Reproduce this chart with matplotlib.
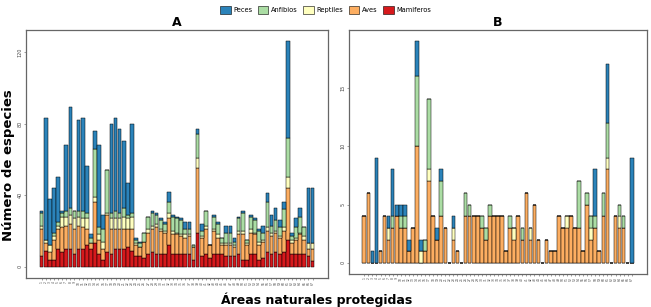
import numpy as np
import matplotlib.pyplot as plt
from matplotlib.patches import Patch

# especies por area natural protegida (67 areas)
areas = list(range(1, 68))

# Panel A
mam_a = [6, 9, 4, 4, 10, 8, 10, 10, 7, 10, 10, 12, 10, 13, 7, 4, 8, 7, 10, 10,
         10, 11, 9, 6, 6, 5, 7, 8, 7, 7, 7, 12, 7, 7, 7, 7, 7, 4, 19, 6,
         7, 5, 7, 7, 7, 6, 6, 6, 7, 4, 4, 7, 7, 4, 5, 8, 7, 8, 7, 8,
         15, 7, 7, 7, 7, 6, 3]
ave_a = [15, 4, 4, 11, 11, 14, 13, 14, 14, 13, 12, 9, 3, 23, 8, 6, 21, 14, 11, 11,
         11, 10, 12, 6, 5, 9, 12, 13, 15, 13, 12, 15, 11, 11, 10, 9, 10, 7, 36, 10,
         14, 7, 13, 9, 5, 6, 6, 5, 11, 14, 8, 12, 11, 8, 9, 12, 10, 11, 9, 12,
         29, 6, 8, 11, 8, 4, 7]
rep_a = [2, 2, 4, 2, 2, 6, 5, 5, 6, 5, 5, 6, 0, 3, 3, 4, 1, 6, 6, 6,
         7, 6, 7, 1, 0, 0, 2, 2, 2, 1, 1, 3, 2, 1, 1, 2, 1, 0, 6, 1,
         2, 0, 1, 2, 1, 1, 1, 1, 2, 2, 1, 2, 1, 2, 1, 2, 2, 1, 1, 2,
         6, 2, 1, 1, 2, 3, 3]
anf_a = [7, 0, 0, 2, 2, 2, 3, 4, 4, 3, 4, 3, 3, 27, 4, 7, 24, 3, 4, 3,
         5, 2, 2, 2, 2, 5, 7, 7, 5, 5, 4, 6, 8, 8, 8, 3, 3, 1, 13, 3,
         8, 0, 7, 6, 3, 6, 6, 2, 7, 10, 2, 7, 7, 6, 4, 14, 4, 6, 5, 10,
         22, 2, 6, 9, 5, 0, 0]
pec_a = [1, 68, 26, 25, 25, 1, 37, 56, 0, 51, 52, 26, 2, 10, 46, 8, 0, 50, 52, 47,
         37, 18, 50, 1, 1, 0, 0, 1, 1, 1, 1, 6, 1, 1, 1, 4, 4, 0, 3, 4,
         0, 0, 1, 1, 0, 4, 4, 2, 1, 1, 0, 1, 1, 1, 4, 5, 6, 7, 4, 4,
         54, 2, 5, 5, 0, 31, 31]

# Panel B
mam_b = [0] * 67
ave_b = [4, 6, 0, 0, 1, 4, 2, 3, 4, 3, 3, 1, 3, 10, 0, 1, 7, 4, 2, 4,
         3, 0, 2, 1, 0, 4, 4, 4, 4, 3, 2, 4, 4, 4, 4, 1, 3, 2, 4, 2,
         6, 2, 5, 2, 0, 2, 1, 1, 4, 3, 3, 4, 3, 3, 1, 5, 2, 3, 1, 4,
         8, 0, 4, 3, 3, 0, 0]
rep_b = [0, 0, 0, 0, 0, 0, 1, 0, 0, 0, 0, 0, 0, 0, 1, 0, 1, 0, 0, 0,
         0, 0, 1, 0, 0, 0, 0, 0, 0, 0, 0, 0, 0, 0, 0, 0, 0, 1, 0, 0,
         0, 1, 0, 0, 0, 0, 0, 0, 0, 0, 1, 0, 0, 0, 0, 0, 1, 0, 0, 0,
         1, 0, 0, 1, 0, 0, 0]
anf_b = [0, 0, 0, 0, 0, 0, 0, 1, 0, 1, 1, 0, 0, 6, 0, 1, 6, 0, 0, 3,
         0, 0, 0, 0, 0, 2, 1, 0, 0, 1, 1, 1, 0, 0, 0, 0, 1, 0, 0, 1,
         0, 0, 0, 0, 0, 0, 0, 0, 0, 0, 0, 0, 0, 4, 0, 1, 1, 1, 0, 2,
         3, 0, 0, 1, 1, 0, 0]
pec_b = [0, 0, 1, 9, 0, 0, 1, 4, 1, 1, 1, 1, 0, 3, 1, 0, 0, 0, 1, 1,
         0, 0, 1, 0, 0, 0, 0, 0, 0, 0, 0, 0, 0, 0, 0, 0, 0, 0, 0, 0,
         0, 0, 0, 0, 0, 0, 0, 0, 0, 0, 0, 0, 0, 0, 0, 0, 0, 4, 0, 0,
         5, 0, 0, 0, 0, 0, 9]

grupos = ["Mamiferos", "Aves", "Reptiles", "Anfibios", "Peces"]
colores = {"Peces": "#2b83ba", "Anfibios": "#abdda4", "Reptiles": "#ffffbf",
           "Aves": "#fdae61", "Mamiferos": "#d7191c"}

fig = plt.figure(figsize=(6.51, 3.07), dpi=100)
ax_a = fig.add_axes([0.040, 0.0945, 0.464, 0.808])
ax_b = fig.add_axes([0.536, 0.1075, 0.458, 0.795])


def apilar(ax, series, titulo, yticks, ylim):
    x = np.array(areas)
    base = np.zeros(len(areas))
    for g, vals in zip(grupos, series):
        vals = np.array(vals, dtype=float)
        ax.bar(x, vals, bottom=base, width=0.9, color=colores[g],
               edgecolor="black", linewidth=0.35)
        base += vals
    ax.set_ylim(*ylim)
    ax.set_yticks(yticks)
    ax.set_yticklabels([str(t) for t in yticks], rotation=90, fontsize=3.5,
                       va="center", color="#444444")
    ax.set_xticks(x)
    ax.set_xticklabels([str(a) for a in areas], rotation=90, fontsize=2.2,
                       color="#444444")
    ax.tick_params(length=1.5, width=0.4, color="#555555", pad=1)
    for s in ax.spines.values():
        s.set_color("#666666")
        s.set_linewidth(0.9)
    ax.set_title(titulo, fontsize=9, fontweight="bold", pad=3)


apilar(ax_a, [mam_a, ave_a, rep_a, anf_a, pec_a], "A", [0, 40, 80, 120], (-6.3, 132.3))
apilar(ax_b, [mam_b, ave_b, rep_b, anf_b, pec_b], "B", [0, 5, 10, 15], (-0.95, 19.95))

fig.text(0.013, 0.463, "Número de especies", rotation=90, ha="center", va="center",
         fontsize=9.5, fontweight="bold")
fig.text(0.487, 0.025, "Áreas naturales protegidas", ha="center", va="center",
         fontsize=9, fontweight="bold")

orden = ["Peces", "Anfibios", "Reptiles", "Aves", "Mamiferos"]
handles = [Patch(facecolor=colores[g], edgecolor="black", linewidth=0.4, label=g) for g in orden]
fig.legend(handles=handles, loc="center", bbox_to_anchor=(0.5, 0.968), ncol=5,
           frameon=False, fontsize=4.8, handlelength=1.6, handleheight=1.4,
           columnspacing=0.8, handletextpad=0.4)

fig.savefig("out.png", dpi=100)
